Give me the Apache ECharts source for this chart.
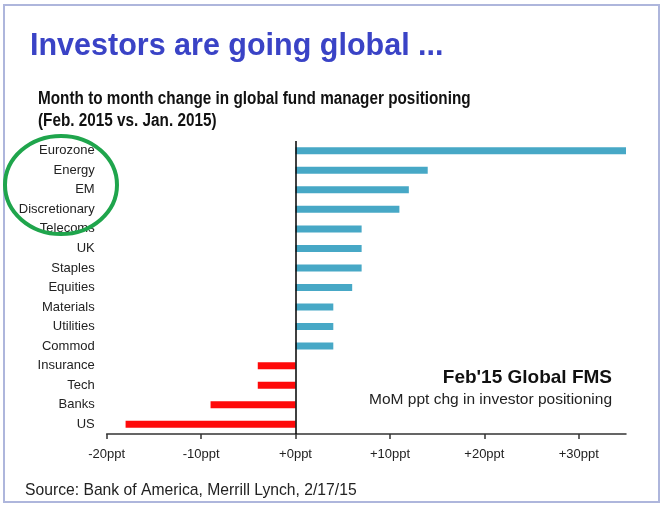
<!DOCTYPE html>
<html>
<head>
<meta charset="utf-8">
<script src="https://cdn.jsdelivr.net/npm/echarts@6/dist/echarts.min.js"></script>
<style>
  html, body { margin: 0; padding: 0; background: #fff; }
  #chart { width: 664px; height: 510px; }
</style>
</head>
<body>
<div id="chart"></div>
<script>
// sectors, top to bottom as in the picture
var categories = ['Eurozone', 'Energy', 'EM', 'Discretionary', 'Telecoms', 'UK', 'Staples',
  'Equities', 'Materials', 'Utilities', 'Commod', 'Insurance', 'Tech', 'Banks', 'US'];
// MoM ppt change in positioning
var changes = [35, 14, 12, 11, 7, 7, 7, 6, 4, 4, 4, -4, -4, -9, -18];
var tickValues = [-20, -10, 0, 10, 20, 30];

var sans = '"Liberation Sans", Arial, sans-serif';

var chart = echarts.init(document.getElementById('chart'));

var option = {
  backgroundColor: '#fff',
  animation: false,
  title: [
    {
      text: 'Investors are going global ...',
      left: 30, top: 31, padding: 0,
      textStyle: {fontFamily: sans, fontSize: 30.5, fontWeight: 'bold', color: '#3a43c6'}
    },
    {
      text: "Feb'15 Global FMS",
      right: 52, top: 368, padding: 0,
      textStyle: {fontFamily: sans, fontSize: 19, fontWeight: 'bold', color: '#111'}
    },
    {
      text: 'MoM ppt chg in investor positioning',
      right: 52, top: 392, padding: 0,
      textStyle: {fontFamily: sans, fontSize: 15.5, fontWeight: 'normal', color: '#222'}
    },
    {
      text: 'Source: Bank of America, Merrill Lynch, 2/17/15',
      left: 25, top: 483, padding: 0,
      textStyle: {fontFamily: sans, fontSize: 15.7, fontWeight: 'normal', color: '#222'}
    }
  ],
  graphic: [
    {
      // condensed bold subtitle
      type: 'text', silent: true,
      x: 38, y: 88, scaleX: 0.85,
      style: {
        text: 'Month to month change in global fund manager positioning\n(Feb. 2015 vs. Jan. 2015)',
        font: 'bold 18px ' + sans,
        fill: '#111',
        lineHeight: 22
      }
    },
    {
      type: 'rect', silent: true, z: 100,
      shape: {x: 4, y: 5, width: 655, height: 497},
      style: {fill: 'none', stroke: '#aeb6dc', lineWidth: 2}
    },
    {
      type: 'ellipse', silent: true, z: 100,
      shape: {cx: 61, cy: 185, rx: 56, ry: 49},
      style: {fill: 'none', stroke: '#1fa54c', lineWidth: 4}
    }
  ],
  grid: {left: 106.7, right: 38, top: 141, bottom: 76, containLabel: false},
  xAxis: {
    type: 'value',
    min: -20, max: 35, interval: 10,
    splitLine: {show: false},
    axisLine: {show: true, lineStyle: {color: '#333', width: 1.5}},
    axisTick: {show: true, length: 5, customValues: tickValues, lineStyle: {color: '#333', width: 1.5}},
    axisLabel: {
      customValues: tickValues,
      margin: 14,
      fontFamily: sans, fontSize: 13, color: '#222',
      formatter: function (v) { return (v >= 0 ? '+' : '') + v + 'ppt'; }
    }
  },
  yAxis: {
    type: 'category',
    data: categories,
    inverse: true,
    axisLine: {show: false, onZero: false},
    axisTick: {show: false},
    axisLabel: {margin: 12, fontFamily: sans, fontSize: 13, color: '#222'}
  },
  series: [{
    type: 'bar',
    data: changes.map(function (v) {
      return {value: v, itemStyle: {color: v >= 0 ? '#47a8c6' : '#fe0a0a'}};
    }),
    barWidth: 7,
    markLine: {
      silent: true, symbol: 'none',
      label: {show: false},
      lineStyle: {color: '#000', type: 'solid', width: 1.5},
      data: [{xAxis: 0}]
    }
  }]
};

chart.setOption(option);
</script>
</body>
</html>
